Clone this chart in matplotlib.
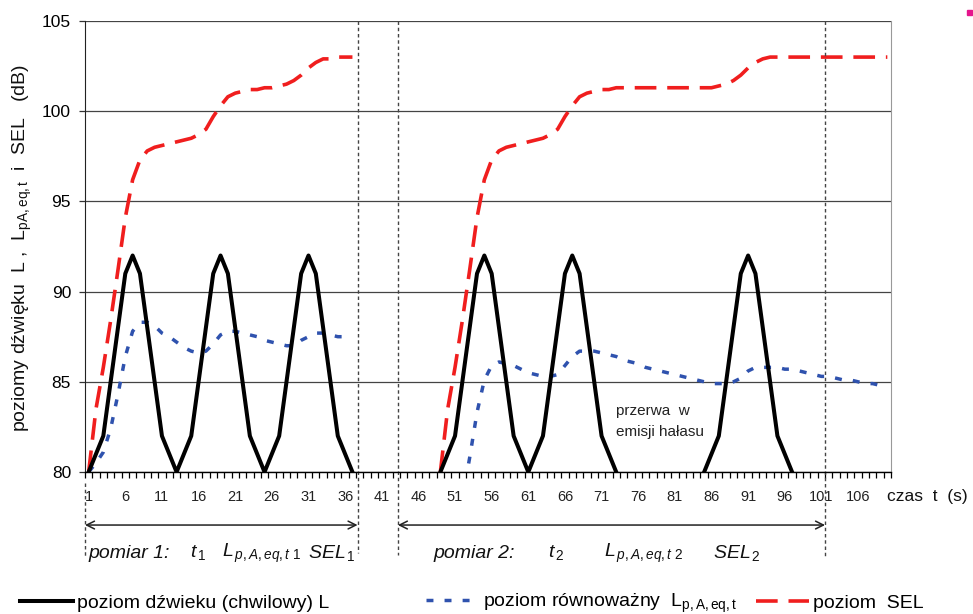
import numpy as np
import matplotlib
matplotlib.use("Agg")
import matplotlib.pyplot as plt
from matplotlib.patches import Rectangle
from matplotlib.lines import Line2D

plt.rcParams['font.family'] = ['Liberation Sans', 'DejaVu Sans']
plt.rcParams['mathtext.fontset'] = 'custom'
plt.rcParams['mathtext.rm'] = 'Liberation Sans'
plt.rcParams['mathtext.it'] = 'Liberation Sans:italic'
plt.rcParams['mathtext.bf'] = 'Liberation Sans:bold'

# time axis: seconds 1..110, labels every 5 s
n_sec = 110
tick_labels = [1, 6, 11, 16, 21, 26, 31, 36, 41, 46, 51, 56, 61, 66, 71, 76, 81, 86, 91, 96, 101, 106]

# measurement 1 (s 1..37)
t1 = np.arange(1, 38)
L1 = [80, 81, 82, 85, 88, 91, 92, 91, 88, 85, 82, 81, 80,
      81, 82, 85, 88, 91, 92, 91, 88, 85, 82, 81, 80,
      81, 82, 85, 88, 91, 92, 91, 88, 85, 82, 81, 80]
SEL1 = [80.0, 83.5, 85.8, 88.4, 91.2, 94.1, 96.2, 97.3, 97.8, 98.0,
        98.1, 98.2, 98.3, 98.4, 98.5, 98.7, 99.0, 99.7, 100.3, 100.8,
        101.0, 101.1, 101.2, 101.2, 101.3, 101.3, 101.4, 101.5, 101.7, 102.0,
        102.4, 102.7, 102.9, 102.9, 103.0, 103.0, 103.0]
Leq1 = [80.0, 80.5, 81.1, 82.4, 84.3, 86.4, 87.8, 88.3, 88.3, 88.1,
        87.7, 87.5, 87.2, 86.9, 86.7, 86.6, 86.7, 87.1, 87.6, 87.8,
        87.8, 87.7, 87.6, 87.5, 87.3, 87.2, 87.1, 87.0, 87.0, 87.3,
        87.5, 87.7, 87.7, 87.6, 87.5, 87.5, 87.4]

# measurement 2: noise s 49..73 and 85..97 (break in between)
t2a = np.arange(49, 74)
L2a = [80, 81, 82, 85, 88, 91, 92, 91, 88, 85, 82, 81, 80,
       81, 82, 85, 88, 91, 92, 91, 88, 85, 82, 81, 80]
t2b = np.arange(85, 98)
L2b = [80, 81, 82, 85, 88, 91, 92, 91, 88, 85, 82, 81, 80]
tS2 = np.arange(49, 111)
SEL2 = [80.0, 83.5, 85.8, 88.4, 91.2, 94.1, 96.2, 97.3, 97.8, 98.0,
        98.1, 98.2, 98.3, 98.4, 98.5, 98.7, 99.0, 99.7, 100.3, 100.8,
        101.0, 101.1, 101.2, 101.2, 101.3, 101.3, 101.3, 101.3, 101.3, 101.3,
        101.3, 101.3, 101.3, 101.3, 101.3, 101.3, 101.3, 101.3, 101.4, 101.5,
        101.7, 102.0, 102.4, 102.7, 102.9, 103.0, 103.0, 103.0, 103.0, 103.0,
        103.0, 103.0, 103.0, 103.0, 103.0, 103.0, 103.0, 103.0, 103.0, 103.0,
        103.0, 103.0]
tL2 = np.arange(52, 111)
Leq2 = [78.5, 80.8, 83.3, 85.1, 85.9, 86.1, 86.0, 85.9, 85.7, 85.5,
        85.4, 85.3, 85.3, 85.4, 85.9, 86.4, 86.7, 86.7, 86.7, 86.6,
        86.5, 86.4, 86.2, 86.1, 86.0, 85.8, 85.7, 85.6, 85.5, 85.4,
        85.3, 85.2, 85.1, 85.0, 84.9, 84.9, 84.9, 85.0, 85.2, 85.6,
        85.8, 85.8, 85.8, 85.8, 85.7, 85.7, 85.6, 85.5, 85.4, 85.3,
        85.3, 85.2, 85.1, 85.1, 85.0, 84.9, 84.9, 84.8, 84.8]

# measurement period boundaries (dashed verticals)
bounds = [0.5, 37.7, 43.2, 101.5]

black_c = 'black'
blue_c = '#2F52AE'
red_c = '#F01E1E'

fig = plt.figure(figsize=(9.73, 6.14), dpi=100)
ax = fig.add_axes([85/973, 1-472/614, (891-85)/973, (472-21)/614])

ax.set_xlim(0.5, n_sec + 0.5)
ax.set_ylim(80, 105)
ax.set_yticks([80, 85, 90, 95, 100, 105])
ax.yaxis.grid(True, color='#444444', lw=0.9)
ax.set_axisbelow(True)

kw_red = dict(color=red_c, lw=2.6, dashes=(6.0, 3.0), dash_capstyle='butt')
kw_blue = dict(color=blue_c, lw=2.5, dashes=(2.0, 3.2), dash_capstyle='butt')
kw_black = dict(color=black_c, lw=2.9, solid_joinstyle='round')

ax.plot(t1, SEL1, **kw_red)
ax.plot(tS2, SEL2, **kw_red)
ax.plot(t1, Leq1, **kw_blue)
ax.plot(tL2, Leq2, **kw_blue)
ax.plot(t1, L1, **kw_black)
ax.plot(t2a, L2a, **kw_black)
ax.plot(t2b, L2b, **kw_black)

# axis styling
ax.spines['top'].set_visible(False)
ax.spines['right'].set_color('#999999')
ax.spines['left'].set_color('#222222')
ax.spines['bottom'].set_color('black')
ax.spines['bottom'].set_linewidth(1.0)

ax.set_xticks(tick_labels)
ax.set_xticklabels([str(v) for v in tick_labels], fontsize=10.5, color='#222222')
ax.set_xticks(np.arange(0.5, n_sec + 1), minor=True)
ax.tick_params(axis='x', which='major', length=0, pad=13)
ax.tick_params(axis='x', which='minor', length=4, width=0.9, direction='out', color='black')
ax.tick_params(axis='y', length=4, width=0.9, direction='out', pad=6, labelsize=12.5, color='#333333')

# dashed period lines
ax.plot([bounds[0], bounds[0]], [79.4, 75.3], color='#444444', lw=1.0, dashes=(2.5, 2), clip_on=False)
ax.plot([bounds[1], bounds[1]], [105, 75.5], color='#444444', lw=1.0, dashes=(2.5, 2), clip_on=False)
ax.plot([bounds[2], bounds[2]], [105, 75.4], color='#444444', lw=1.0, dashes=(2.5, 2), clip_on=False)
ax.plot([bounds[3], bounds[3]], [105, 75.3], color='#444444', lw=1.0, dashes=(2.5, 2), clip_on=False)

# measurement arrows
arr = dict(arrowstyle='<->', lw=1.1, color='#222222', mutation_scale=14, shrinkA=0, shrinkB=0)
ax.annotate('', xy=(bounds[0], 77.06), xytext=(bounds[1], 77.06), arrowprops=arr, annotation_clip=False)
ax.annotate('', xy=(bounds[2], 77.06), xytext=(bounds[3], 77.06), arrowprops=arr, annotation_clip=False)

def ftxt(px, py, s, **kw):
    fig.text(px/973, 1 - py/614, s, va='center', ha='left', **kw)

it = dict(fontsize=14, style='italic', color='#111111')
ftxt(88, 553, 'pomiar 1:', **it)
ftxt(190, 553, r'$t_{\,1}$', **it)
ftxt(222, 553, r'$L_{\,p,A,eq,t\ 1}$', **it)
ftxt(308, 553, r'$SEL_{\,1}$', **it)
ftxt(433, 553, 'pomiar 2:', **it)
ftxt(548, 553, r'$t_{\,2}$', **it)
ftxt(604, 553, r'$L_{\,p,A,eq,t\ 2}$', **it)
ftxt(713, 553, r'$SEL_{\,2}$', **it)

ftxt(616, 411, 'przerwa  w', fontsize=11, color='#222222')
ftxt(616, 432, 'emisji hałasu', fontsize=11, color='#222222')
ftxt(887, 497, 'czas  t  (s)', fontsize=12.5, color='#111111')

fig.text(22/973, 1 - 248/614,
         r'poziomy dźwięku  L ,  L$_{\mathrm{pA,eq,t}}$  i  SEL   (dB)',
         rotation=90, va='center', ha='center', fontsize=14, color='#111111')

# legend (three separate entries spread along the bottom)
h_black = Line2D([], [], **kw_black)
h_blue = Line2D([], [], **kw_blue)
h_red = Line2D([], [], **kw_red)
leg_items = [(h_black, 'poziom dźwieku (chwilowy) L', 20),
             (h_blue, r'poziom równoważny  L$_{\mathrm{p,A,eq,t}}$', 426),
             (h_red, 'poziom  SEL', 756)]
for h, lab, px in leg_items:
    fig.legend(handles=[h], labels=[lab], loc='center left',
               bbox_to_anchor=(px/973, 1 - 603/614), frameon=False,
               fontsize=14, handlelength=2.7, handletextpad=0.25,
               borderpad=0, borderaxespad=0)

# small magenta mark in the top right corner
fig.patches.append(Rectangle((967/973, 1 - 15/614), 5/973, 5/614,
                             transform=fig.transFigure, color='#E5148C'))

fig.savefig('out.png', dpi=100)
